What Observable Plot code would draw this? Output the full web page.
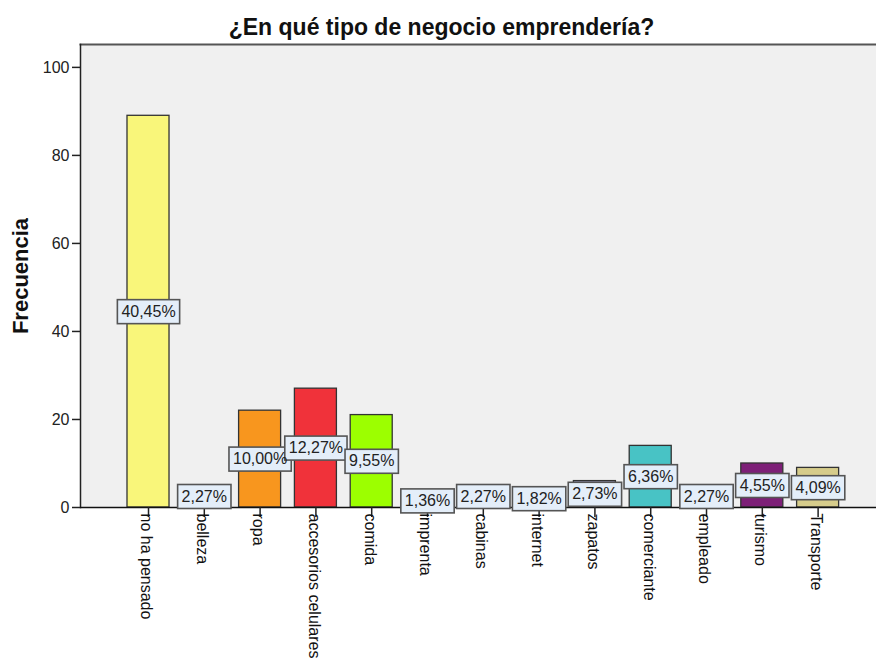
<!DOCTYPE html>
<html>
<head>
<meta charset="utf-8">
<script src="https://cdn.jsdelivr.net/npm/d3@7"></script>
<script src="https://cdn.jsdelivr.net/npm/@observablehq/plot@0.6"></script>
<style>
  html, body { margin: 0; padding: 0; background: #fff; }
  #title {
    width: 876px; height: 40px; box-sizing: border-box;
    padding-top: 16px; padding-left: 7px;
    text-align: center;
    font-family: "Liberation Sans", Arial, sans-serif;
    font-weight: bold; font-size: 23px; line-height: 22px; color: #111;
  }
</style>
</head>
<body>
<div id="title">¿En qué tipo de negocio emprendería?</div>
<div id="chart"></div>
<script>
const categories = ["no ha pensado", "belleza", "ropa", "accesorios celulares", "comida", "imprenta", "cabinas", "internet", "zapatos", "comerciante", "empleado", "turismo", "Transporte"];
const counts = [89, 5, 22, 27, 21, 3, 5, 4, 6, 14, 5, 10, 9];
const percentLabels = ["40,45%", "2,27%", "10,00%", "12,27%", "9,55%", "1,36%", "2,27%", "1,82%", "2,73%", "6,36%", "2,27%", "4,55%", "4,09%"];
const colors = ["#f9f67a", "#4a6fb5", "#f8961e", "#f0323a", "#9cff00", "#3a8fd0", "#c8a070", "#7ab0d0", "#a0a0c8", "#48c3c5", "#b0c8e0", "#7d1f77", "#d6cc8b"];
const yTicks = [0, 20, 40, 60, 80, 100];

const data = categories.map((c, i) => ({cat: c, value: counts[i], label: percentLabels[i], color: colors[i]}));
const FONT = "'Liberation Sans', Arial, sans-serif";

function boxedLabels(index, scales, values, dimensions, context, next) {
  const g = next(index, scales, values, dimensions, context);
  const ctx = document.createElement("canvas").getContext("2d");
  ctx.font = "16px 'Liberation Sans'";
  const first = g.firstChild;
  const h = 24;
  for (const i of index) {
    const w = ctx.measureText(data[i].label).width + 8;
    const r = document.createElementNS("http://www.w3.org/2000/svg", "rect");
    r.setAttribute("x", values.x[i] - w / 2);
    r.setAttribute("y", values.y[i] - h / 2);
    r.setAttribute("width", w);
    r.setAttribute("height", h);
    r.setAttribute("fill", "#e4eef9");
    r.setAttribute("stroke", "#555");
    r.setAttribute("stroke-width", 1.6);
    g.insertBefore(r, first);
  }
  return g;
}

const chart = Plot.plot({
  width: 876,
  height: 619,
  marginLeft: 80,
  marginRight: 0,
  marginTop: 4,
  marginBottom: 152,
  style: {fontFamily: FONT, fontSize: "15px", color: "#222", background: "#fff", overflow: "visible"},
  x: {type: "band", domain: categories, paddingInner: 0.247, paddingOuter: 0.756, align: 0.557, round: false},
  y: {domain: [0, 105.2]},
  color: {type: "identity"},
  marks: [
    Plot.frame({fill: "#f0f0f0", stroke: null}),
    Plot.frame({anchor: "top", stroke: "#555", strokeWidth: 2}),
    Plot.frame({anchor: "left", stroke: "#222", strokeWidth: 1.5}),
    Plot.barY(data, {x: "cat", y: "value", fill: "color", stroke: "#333", strokeWidth: 1.3}),
    Plot.ruleY([0], {stroke: "#111", strokeWidth: 1.5}),
    Plot.axisY({ticks: yTicks, tickSize: 8, tickPadding: 3, fontSize: 16, label: null, strokeWidth: 1.5}),
    Plot.axisX({tickSize: 10, tickFormat: () => "", label: null, strokeWidth: 1.5}),
    Plot.text(categories, {x: d => d, text: d => d, frameAnchor: "bottom", dy: 6, dx: -2, rotate: 90, textAnchor: "start", lineAnchor: "middle", fontSize: 16, fill: "#111"}),
    Plot.text(data, {x: "cat", y: d => d.value / 2, text: "label", fontSize: 16, fill: "#222", render: boxedLabels}),
    Plot.text(["Frecuencia"], {frameAnchor: "left", dx: -60, rotate: -90, textAnchor: "middle", lineAnchor: "middle", text: d => d, fontSize: 22, fontWeight: "bold", fill: "#111"})
  ]
});
document.getElementById("chart").appendChild(chart);
</script>
</body>
</html>
